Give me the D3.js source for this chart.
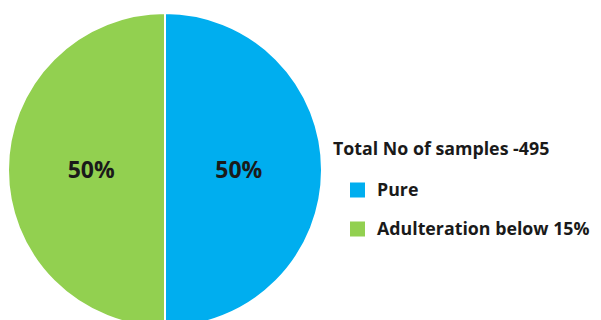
<!DOCTYPE html>
<html><head><meta charset="utf-8">
<script src="https://cdn.jsdelivr.net/npm/d3@7"></script>
<style>body{margin:0;background:#fff;}svg{display:block;}</style>
</head><body>
<svg id="c" width="601" height="320"></svg>
<script>
const categories = ["Pure", "Adulteration below 15%"];
const values = [50, 50];
const colors = ["#00AEEF", "#92D050"];
const legendTitle = "Total No of samples -495";

const svg = d3.select("#c");
const font = "'Open Sans', Lato, sans-serif";
const cx = 165, cy = 170, r = 157;

const pie = d3.pie().sort(null).value(d => d)(values);
const arc = d3.arc().innerRadius(0).outerRadius(r);
const g = svg.append("g").attr("transform", `translate(${cx},${cy})`);
g.selectAll("path").data(pie).join("path")
  .attr("d", arc)
  .attr("fill", (d, i) => colors[i])
  .attr("stroke", "#fff").attr("stroke-width", 2);

const lab = d3.arc().innerRadius(r * 0.47).outerRadius(r * 0.47);
g.selectAll("text").data(pie).join("text")
  .attr("transform", d => `translate(${lab.centroid(d)})`)
  .attr("text-anchor", "middle").attr("dy", "0.35em")
  .attr("font-family", font).attr("font-weight", "bold").attr("font-size", 23)
  .attr("fill", "#1a1a1a")
  .text(d => d3.format(".0%")(d.value / d3.sum(values)));

svg.append("text").attr("x", 333).attr("y", 149).attr("dy", "0.35em")
  .attr("font-family", font).attr("font-weight", "bold").attr("font-size", 17.8)
  .attr("fill", "#1a1a1a").text(legendTitle);

const lg = svg.append("g");
categories.forEach((c, i) => {
  const y = 190 + i * 39;
  lg.append("rect").attr("x", 350).attr("y", y - 7.5).attr("width", 15).attr("height", 15).attr("fill", colors[i]);
  lg.append("text").attr("x", 377).attr("y", y).attr("dy", "0.35em")
    .attr("font-family", font).attr("font-weight", "bold").attr("font-size", 17.8)
    .attr("fill", "#1a1a1a").text(c);
});
</script>
</body></html>
